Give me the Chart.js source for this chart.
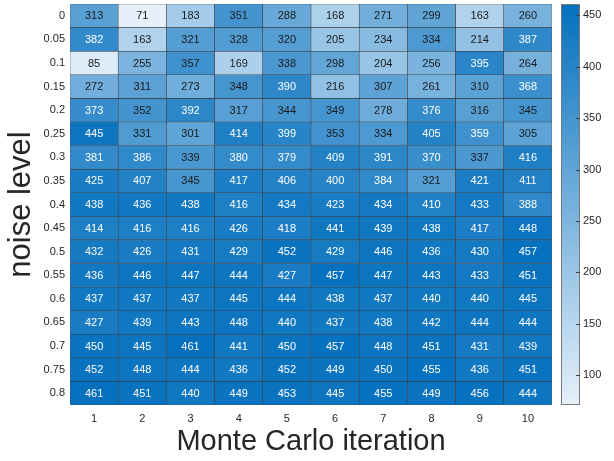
<!DOCTYPE html>
<html lang="en">
<head>
<meta charset="UTF-8">
<title>Noise level vs Monte Carlo iteration</title>
<script src="https://cdn.jsdelivr.net/npm/chart.js"></script>
<style>
  html, body { margin: 0; padding: 0; background: #fff; }
  canvas { display: block; }
</style>
</head>
<body>
<canvas id="heat" width="614" height="461"></canvas>
<script>
// columns and rows
const iterations = ['1', '2', '3', '4', '5', '6', '7', '8', '9', '10'];
const noiseLevels = ['0', '0.05', '0.1', '0.15', '0.2', '0.25', '0.3', '0.35', '0.4',
                     '0.45', '0.5', '0.55', '0.6', '0.65', '0.7', '0.75', '0.8'];

// one array per noise level, values for iteration 1..10
const noise000 = [313, 71, 183, 351, 288, 168, 271, 299, 163, 260];
const noise005 = [382, 163, 321, 328, 320, 205, 234, 334, 214, 387];
const noise010 = [85, 255, 357, 169, 338, 298, 204, 256, 395, 264];
const noise015 = [272, 311, 273, 348, 390, 216, 307, 261, 310, 368];
const noise020 = [373, 352, 392, 317, 344, 349, 278, 376, 316, 345];
const noise025 = [445, 331, 301, 414, 399, 353, 334, 405, 359, 305];
const noise030 = [381, 386, 339, 380, 379, 409, 391, 370, 337, 416];
const noise035 = [425, 407, 345, 417, 406, 400, 384, 321, 421, 411];
const noise040 = [438, 436, 438, 416, 434, 423, 434, 410, 433, 388];
const noise045 = [414, 416, 416, 426, 418, 441, 439, 438, 417, 448];
const noise050 = [432, 426, 431, 429, 452, 429, 446, 436, 430, 457];
const noise055 = [436, 446, 447, 444, 427, 457, 447, 443, 433, 451];
const noise060 = [437, 437, 437, 445, 444, 438, 437, 440, 440, 445];
const noise065 = [427, 439, 443, 448, 440, 437, 438, 442, 444, 444];
const noise070 = [450, 445, 461, 441, 450, 457, 448, 451, 431, 439];
const noise075 = [452, 448, 444, 436, 452, 449, 450, 455, 436, 451];
const noise080 = [461, 451, 440, 449, 453, 445, 455, 449, 456, 444];

const rows = [noise000, noise005, noise010, noise015, noise020, noise025, noise030,
              noise035, noise040, noise045, noise050, noise055, noise060, noise065,
              noise070, noise075, noise080];

// colour bar
const colorTicks = [100, 150, 200, 250, 300, 350, 400, 450];
const colorMin = 71;
const colorMax = 461;

const lowRGB = [229, 240, 250];
const highRGB = [4, 112, 190];

function cellColor(v) {
    const t = Math.max(0, Math.min(1, (v - colorMin) / (colorMax - colorMin)));
    const c = lowRGB.map((lo, i) => Math.round(lo + (highRGB[i] - lo) * t));
    return 'rgb(' + c.join(',') + ')';
}

const textDark = '#262626';
const fontFamily = '"Liberation Sans", Arial, sans-serif';

const datasets = rows.map((vals, r) => ({
    label: noiseLevels[r],
    data: vals.map(() => [r - 0.5, r + 0.5]),
    backgroundColor: vals.map(cellColor),
    borderColor: 'rgba(35,35,35,0.8)',
    borderWidth: 0.6,
    borderSkipped: false,
    grouped: false,
    categoryPercentage: 1,
    barPercentage: 1,
    yAxisID: 'y'
}));

// numbers inside the cells
const cellLabels = {
    id: 'cellLabels',
    afterDatasetsDraw(chart) {
        const {ctx, scales: {x, y}} = chart;
        ctx.save();
        ctx.font = '11px ' + fontFamily;
        ctx.textAlign = 'center';
        ctx.textBaseline = 'middle';
        rows.forEach((vals, r) => {
            vals.forEach((v, c) => {
                ctx.fillStyle = v >= 358 ? '#ffffff' : '#1a1a1a';
                ctx.fillText(String(v), x.getPixelForValue(c), y.getPixelForValue(r) + 0.5);
            });
        });
        ctx.restore();
    }
};

// gradient bar next to the colour axis
const colorBar = {
    id: 'colorBar',
    afterDraw(chart) {
        const {ctx} = chart;
        const cb = chart.scales.cb;
        const left = cb.left + 9;
        const w = 19;
        const top = cb.getPixelForValue(colorMax);
        const bottom = cb.getPixelForValue(colorMin);
        const g = ctx.createLinearGradient(0, bottom, 0, top);
        g.addColorStop(0, cellColor(colorMin));
        g.addColorStop(1, cellColor(colorMax));
        ctx.save();
        ctx.fillStyle = g;
        ctx.fillRect(left, top, w, bottom - top);
        ctx.strokeStyle = '#7a7a7a';
        ctx.lineWidth = 1;
        ctx.strokeRect(left + 0.5, top + 0.5, w - 1, bottom - top - 1);
        ctx.strokeStyle = '#444';
        colorTicks.forEach(t => {
            const py = Math.round(cb.getPixelForValue(t)) + 0.5;
            ctx.beginPath();
            ctx.moveTo(left + w - 4, py);
            ctx.lineTo(left + w, py);
            ctx.stroke();
        });
        ctx.restore();
    }
};

// no extra room for the end labels, sizes set by hand
function noEdgePad(s) {
    s.paddingTop = 0;
    s.paddingBottom = 0;
    s.paddingLeft = 0;
    s.paddingRight = 0;
}

new Chart(document.getElementById('heat'), {
    type: 'bar',
    data: { labels: iterations, datasets: datasets },
    options: {
        responsive: false,
        animation: false,
        layout: { padding: { top: 4, left: 0, right: 0, bottom: 0 } },
        plugins: {
            legend: { display: false },
            tooltip: { enabled: false }
        },
        scales: {
            x: {
                type: 'category',
                offset: true,
                grid: { display: false, drawTicks: false },
                border: { display: false },
                ticks: { color: textDark, padding: 7, font: { size: 11, family: fontFamily } },
                title: {
                    display: true,
                    text: 'Monte Carlo iteration',
                    color: textDark,
                    font: { size: 29, family: fontFamily, lineHeight: 1.2 },
                    padding: { top: 0, bottom: 2 }
                },
                afterFit(s) { noEdgePad(s); s.height = 56; }
            },
            y: {
                type: 'linear',
                reverse: true,
                min: -0.5,
                max: noiseLevels.length - 0.5,
                grid: { display: false, drawTicks: false },
                border: { display: false },
                afterBuildTicks(s) { s.ticks = noiseLevels.map((_, i) => ({ value: i })); },
                ticks: {
                    color: textDark,
                    padding: 5,
                    autoSkip: false,
                    font: { size: 11, family: fontFamily },
                    callback: v => noiseLevels[v]
                },
                title: {
                    display: true,
                    text: 'noise level',
                    color: textDark,
                    font: { size: 31, family: fontFamily, lineHeight: 1.2 },
                    padding: { top: 3, bottom: 0 }
                },
                afterFit(s) { noEdgePad(s); s.width = 70; }
            },
            cb: {
                type: 'linear',
                position: 'right',
                min: colorMin,
                max: colorMax,
                grid: { display: false, drawTicks: true, tickLength: 28 },
                border: { display: false },
                afterBuildTicks(s) { s.ticks = colorTicks.map(v => ({ value: v })); },
                ticks: { color: textDark, padding: 3, font: { size: 11, family: fontFamily } },
                afterFit(s) { noEdgePad(s); s.width = 62; }
            }
        }
    },
    plugins: [cellLabels, colorBar]
});
</script>
</body>
</html>
